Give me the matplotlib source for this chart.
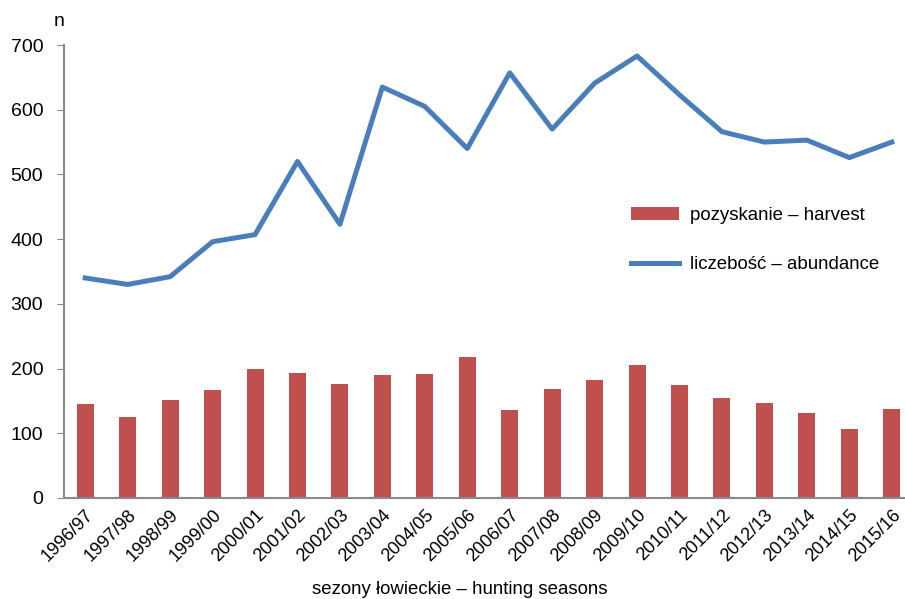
import numpy as np
import matplotlib.pyplot as plt

plt.rcParams['font.family'] = ['Liberation Sans', 'DejaVu Sans']

seasons = ['1996/97', '1997/98', '1998/99', '1999/00', '2000/01', '2001/02',
           '2002/03', '2003/04', '2004/05', '2005/06', '2006/07', '2007/08',
           '2008/09', '2009/10', '2010/11', '2011/12', '2012/13', '2013/14',
           '2014/15', '2015/16']
harvest = [145, 125, 152, 167, 199, 193, 176, 190, 191, 218,
           136, 169, 183, 205, 174, 154, 147, 132, 107, 137]
abundance = [340, 330, 342, 396, 407, 520, 423, 635, 605, 540,
             657, 570, 641, 683, 623, 566, 550, 553, 526, 550]

fig = plt.figure(figsize=(9.05, 5.99), dpi=100)
ax = fig.add_axes([64 / 905, 1 - 498 / 599, 849 / 905, 453 / 599])

x = np.arange(len(seasons))
bars = ax.bar(x, harvest, width=0.4, color='#c0504d', label='pozyskanie – harvest', zorder=2)
line, = ax.plot(x, abundance, color='#4a7ebb', lw=3.6, solid_joinstyle='round',
                label='liczebość – abundance', zorder=3)

ax.set_xlim(-0.5, len(seasons) - 0.5)
ax.set_ylim(0, 700)
ax.set_yticks(range(0, 701, 100))
ax.set_xticks(x)
ax.set_xticklabels(seasons, rotation=45, ha='right', rotation_mode='anchor', fontsize=13.1)
ax.tick_params(axis='x', length=0, pad=6)
ax.tick_params(axis='y', length=5, color='#898989', labelsize=14, pad=10)

for s in ['top', 'right']:
    ax.spines[s].set_visible(False)
for s in ['left', 'bottom']:
    ax.spines[s].set_color('#898989')
    ax.spines[s].set_linewidth(1.5)

fig.text(59 / 905, 1 - 22 / 599, 'n', fontsize=14, ha='center', va='center')
fig.text(460 / 905, 1 - 590 / 599, 'sezony łowieckie – hunting seasons',
         fontsize=13.4, ha='center', va='center')

ax.legend([bars, line], ['pozyskanie – harvest', 'liczebość – abundance'],
          loc='upper left', bbox_to_anchor=(614 / 905, 1 - 190 / 599),
          bbox_transform=fig.transFigure, frameon=False, fontsize=13.4,
          handlelength=2.6, handletextpad=0.6, labelspacing=1.75, handleheight=0.7)

fig.savefig('out.png', dpi=100)
